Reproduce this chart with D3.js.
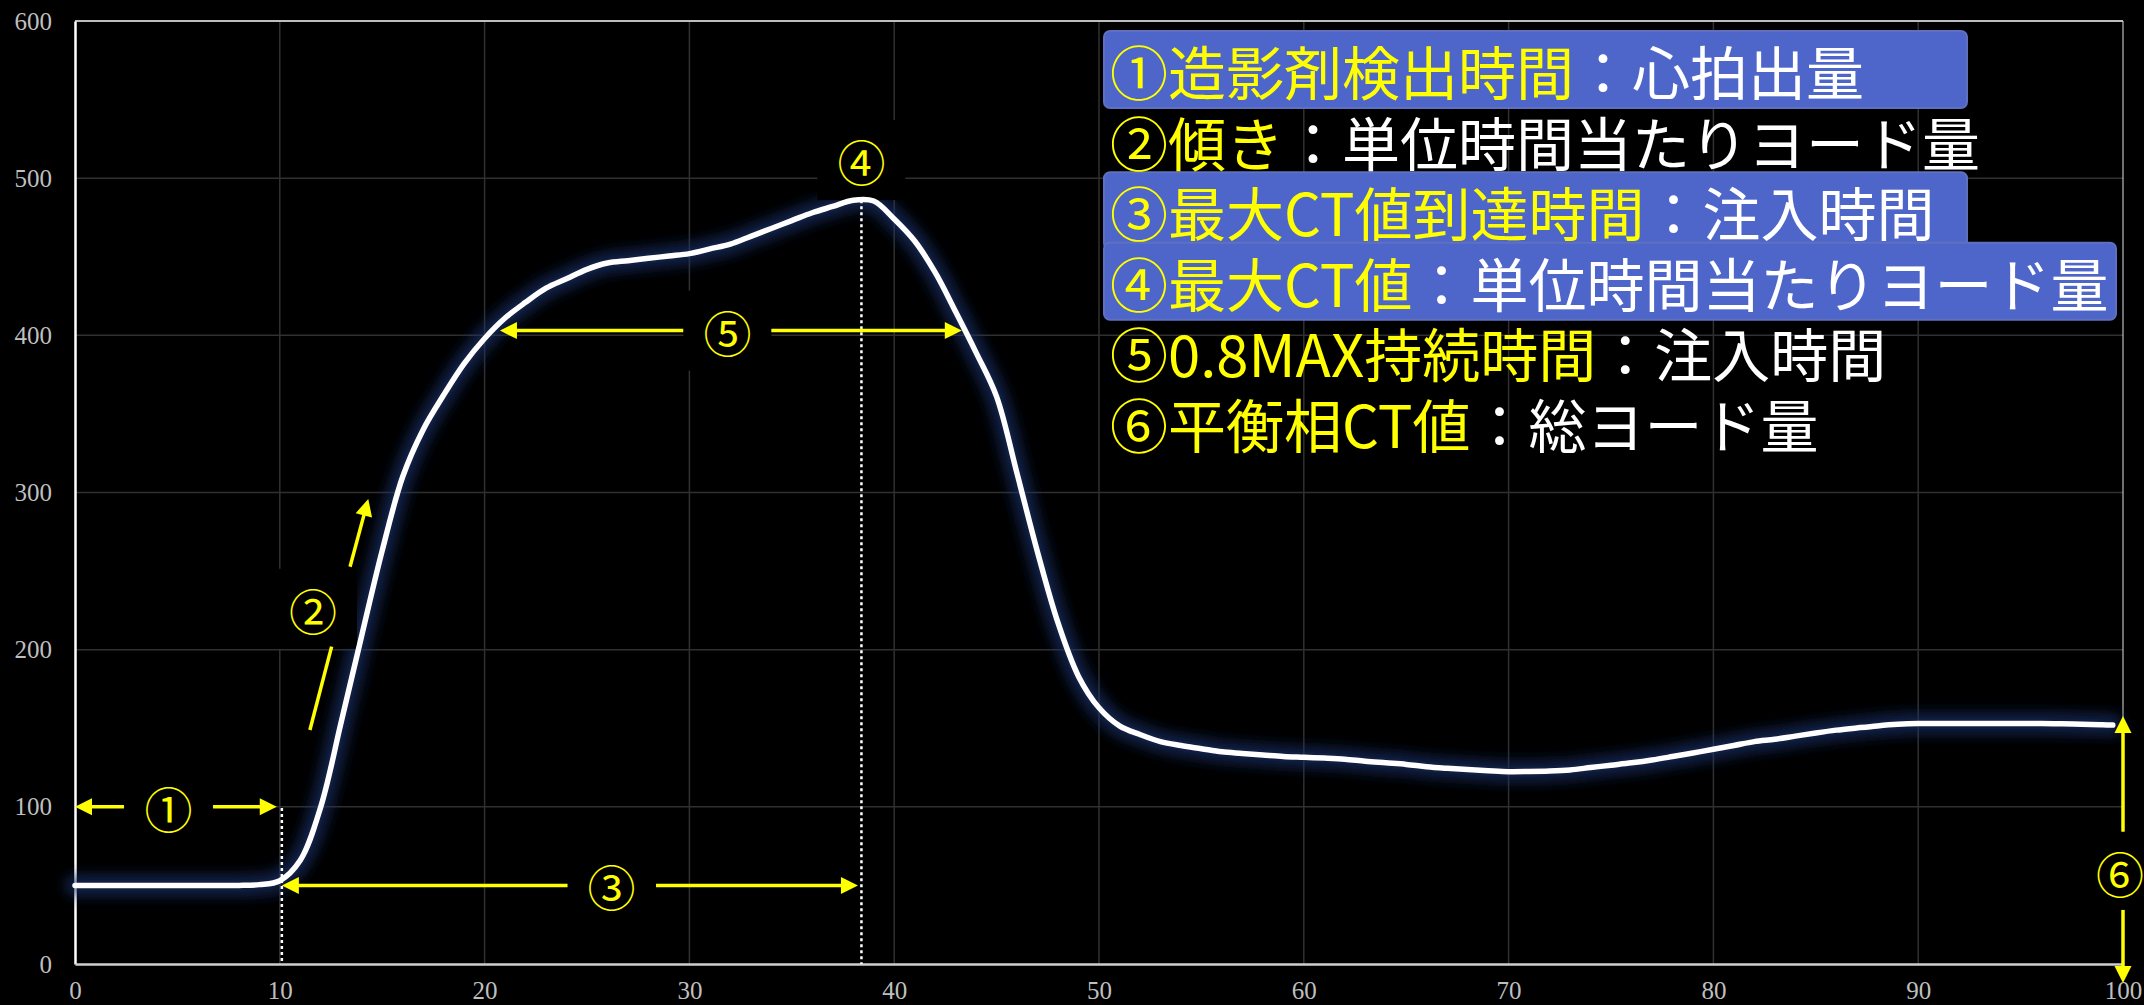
<!DOCTYPE html>
<html>
<head>
<meta charset="utf-8">
<script src="https://cdn.jsdelivr.net/npm/d3@7"></script>
<style>
  html, body { margin: 0; padding: 0; background: #000; }
  svg { display: block; }
</style>
</head>
<body>
<svg id="chart" width="2144" height="1005"></svg>
<script>
// ---------- data ----------
const times = [0,1,2,3,4,5,6,7,8,9,10,11,12,13,14,15,16,17,18,19,20,21,22,23,24,25,26,27,28,29,
  30,31,32,33,34,35,36,37,38,39,40,41,42,43,44,45,46,47,48,49,50,51,52,53,54,55,56,57,58,59,
  60,61,62,63,64,65,66,67,68,69,70,71,72,73,74,75,76,77,78,79,80,81,82,83,84,85,86,87,88,89,
  90,91,92,93,94,95,96,97,98,99,99.5];
const ctValues = [50,50,50,50,50,50,50,50,50,50.5,53,66,100,154,209,263,310,340,362,382,
  398,411,421,430,436,442,446,447.5,449,450.5,452,455,458,463,468,473,478,482,486,485.5,
  474,460,440,415,389,361,312,262,217,183,163,151.5,146,141.5,139,137,135,134,133,132,
  131.5,131,130.3,129,128,127,125.5,124.5,123.7,123,122.4,122.5,122.8,123.5,125,126.5,128,129.8,132,134.3,
  136.6,139,141.5,143,145,147,148.8,150.2,151.5,152.5,153,153,153,153,153,153,153,152.8,152.5,152.3,152];
const xTicks = [0,10,20,30,40,50,60,70,80,90,100];
const yTicks = [0,100,200,300,400,500,600];

const legendYellow = ["①造影剤検出時間","②傾き","③最大CT値到達時間","④最大CT値","⑤0.8MAX持続時間","⑥平衡相CT値"];
const legendWhite  = ["：心拍出量","：単位時間当たりヨード量","：注入時間","：単位時間当たりヨード量","：注入時間","：総ヨード量"];
const legendHighlighted = [true,false,true,true,false,false];

// annotation labels (data space)
const labelText = ["①","②","③","④","⑤","⑥"];
const labelX = [4.57, 11.62, 26.2, 38.4, 31.86, 99.85];
const labelY = [100, 226, 50, 511.5, 403, 58.8];
// arrows: from (x1,y1) to tip (x2,y2), data space
const arrowX1 = [2.39, 6.74, 24.05, 28.37, 29.7, 34.0, 11.47, 13.43, 100, 100];
const arrowY1 = [100, 100, 50, 50, 403, 403, 148.9, 252.8, 84.2, 34.4];
const arrowX2 = [0, 9.85, 10.1, 38.23, 20.75, 43.3, 12.53, 14.32, 100, 100];
const arrowY2 = [100, 100, 50, 50, 403, 403, 201.9, 295.9, 157.8, -12.1];
const arrowHead = [true,true,true,true,true,true,false,true,true,true];
// dotted drop lines
const dropX = [10.1, 38.4];
const dropTop = [99.2, 486];

// ---------- layout ----------
const svg = d3.select("#chart");
const W = 2144, H = 1005;
const plotL = 75, plotR = 2123, plotT = 21, plotB = 964;
svg.append("rect").attr("width", W).attr("height", H).attr("fill", "#000");

const x = d3.scaleLinear().domain([0, 100]).range([plotL, plotR]);
const y = d3.scaleLinear().domain([0, 600]).range([plotB, plotT]);

const defs = svg.append("defs");
const glow = defs.append("filter").attr("id", "glow")
  .attr("x", "-10%").attr("y", "-10%").attr("width", "120%").attr("height", "120%");
glow.append("feGaussianBlur").attr("stdDeviation", 7);

// grid
const grid = svg.append("g");
grid.selectAll("line.gx").data(xTicks.filter(d => d > 0 && d < 100)).join("line")
  .attr("x1", d => x(d)).attr("x2", d => x(d)).attr("y1", plotT).attr("y2", plotB)
  .attr("stroke", "#303030").attr("stroke-width", 1.5);
grid.selectAll("line.gy").data(yTicks.filter(d => d > 0 && d < 600)).join("line")
  .attr("x1", plotL).attr("x2", plotR).attr("y1", d => y(d)).attr("y2", d => y(d))
  .attr("stroke", "#303030").attr("stroke-width", 1.5);

// frame
svg.append("line").attr("x1", plotL).attr("x2", plotR).attr("y1", plotT).attr("y2", plotT)
  .attr("stroke", "#bdbdbd").attr("stroke-width", 2);
svg.append("line").attr("x1", plotR).attr("x2", plotR).attr("y1", plotT).attr("y2", plotB)
  .attr("stroke", "#e0e0e0").attr("stroke-width", 1);

// axes
const fontTick = "'Liberation Serif', 'DejaVu Serif', serif";
const yAxis = svg.append("g").attr("transform", `translate(${plotL},0)`)
  .call(d3.axisLeft(y).tickValues(yTicks).tickSize(0).tickPadding(23));
yAxis.select(".domain").attr("stroke", "#ffffff").attr("stroke-width", 2.5);
yAxis.selectAll("text").attr("fill", "#bfbfbf").attr("font-size", 25).attr("font-family", fontTick);

const xAxis = svg.append("g").attr("transform", `translate(0,${plotB})`)
  .call(d3.axisBottom(x).tickValues(xTicks).tickSize(0).tickPadding(17));
xAxis.select(".domain").attr("stroke", "#cfcfcf").attr("stroke-width", 2.5);
xAxis.selectAll("text").attr("fill", "#bfbfbf").attr("font-size", 25).attr("font-family", fontTick);

// series
const pts = times.map((t, i) => [t, ctValues[i]]);
const line = d3.line().x(d => x(d[0])).y(d => y(d[1])).curve(d3.curveCatmullRom.alpha(0.5));

svg.append("path").attr("d", line(pts)).attr("fill", "none")
  .attr("stroke", "#1c3270").attr("stroke-opacity", 0.7).attr("stroke-width", 20)
  .attr("stroke-linecap", "round").attr("filter", "url(#glow)");

// label background boxes
const labelFont = "'Noto Sans CJK JP', sans-serif";
svg.append("g").selectAll("rect").data(labelText.map((t, i) => i)).join("rect")
  .attr("x", i => x(labelX[i]) - 44).attr("y", i => y(labelY[i]) - 40)
  .attr("width", 88).attr("height", 80).attr("fill", "#000");

svg.append("path").attr("d", line(pts)).attr("fill", "none")
  .attr("stroke", "#ffffff").attr("stroke-width", 5.5)
  .attr("stroke-linecap", "round").attr("stroke-linejoin", "round");

// dotted drop lines
svg.append("g").selectAll("line").data(dropX.map((d, i) => i)).join("line")
  .attr("x1", i => x(dropX[i])).attr("x2", i => x(dropX[i]))
  .attr("y1", i => y(dropTop[i])).attr("y2", y(0))
  .attr("stroke", "#ffffff").attr("stroke-width", 2.5).attr("stroke-dasharray", "3,3");

// arrows
const yellow = "#ffff00";
const ag = svg.append("g");
arrowX1.forEach((_, i) => {
  const sx = x(arrowX1[i]), sy = y(arrowY1[i]);
  const tx = x(arrowX2[i]), ty = y(arrowY2[i]);
  const dx = tx - sx, dy = ty - sy, len = Math.hypot(dx, dy);
  const ux = dx / len, uy = dy / len;
  const hl = arrowHead[i] ? 17 : 0, hw = 8.5;
  const bx = tx - ux * hl, by = ty - uy * hl;
  ag.append("line").attr("x1", sx).attr("y1", sy).attr("x2", arrowHead[i] ? bx + ux : tx).attr("y2", arrowHead[i] ? by + uy : ty)
    .attr("stroke", yellow).attr("stroke-width", 3.5);
  if (arrowHead[i]) {
    const px = -uy, py = ux;
    ag.append("path")
      .attr("d", `M${tx},${ty}L${bx + px * hw},${by + py * hw}L${bx - px * hw},${by - py * hw}Z`)
      .attr("fill", yellow);
  }
});

// annotation labels
svg.append("g").selectAll("text").data(labelText.map((t, i) => i)).join("text")
  .attr("x", i => x(labelX[i])).attr("y", i => y(labelY[i]))
  .attr("text-anchor", "middle").attr("dominant-baseline", "central")
  .attr("font-family", labelFont).attr("font-size", 48).attr("fill", yellow)
  .text(i => labelText[i]);

// legend
const legX = 1104, legTextX = 1110, legY0 = 70, legStep = 70.6;
const boxRight = [1967, 1967, 1967, 2116, 1967, 1967];
const lg = svg.append("g");
legendYellow.forEach((t, i) => {
  const cy = legY0 + legStep * i;
  if (legendHighlighted[i]) {
    lg.append("rect").attr("x", legX).attr("y", cy - 39).attr("width", boxRight[i] - legX).attr("height", 77)
      .attr("rx", 6).attr("fill", "#4e66c9").attr("stroke", "#6070c0").attr("stroke-width", 2);
  }
});
legendYellow.forEach((t, i) => {
  const cy = legY0 + legStep * i;
  const txt = lg.append("text").attr("x", legTextX).attr("y", cy)
    .attr("dominant-baseline", "central")
    .attr("font-family", labelFont).attr("font-size", 58);
  txt.append("tspan").attr("fill", yellow).text(t);
  txt.append("tspan").attr("fill", "#ffffff").text(legendWhite[i]);
});
</script>
</body>
</html>
